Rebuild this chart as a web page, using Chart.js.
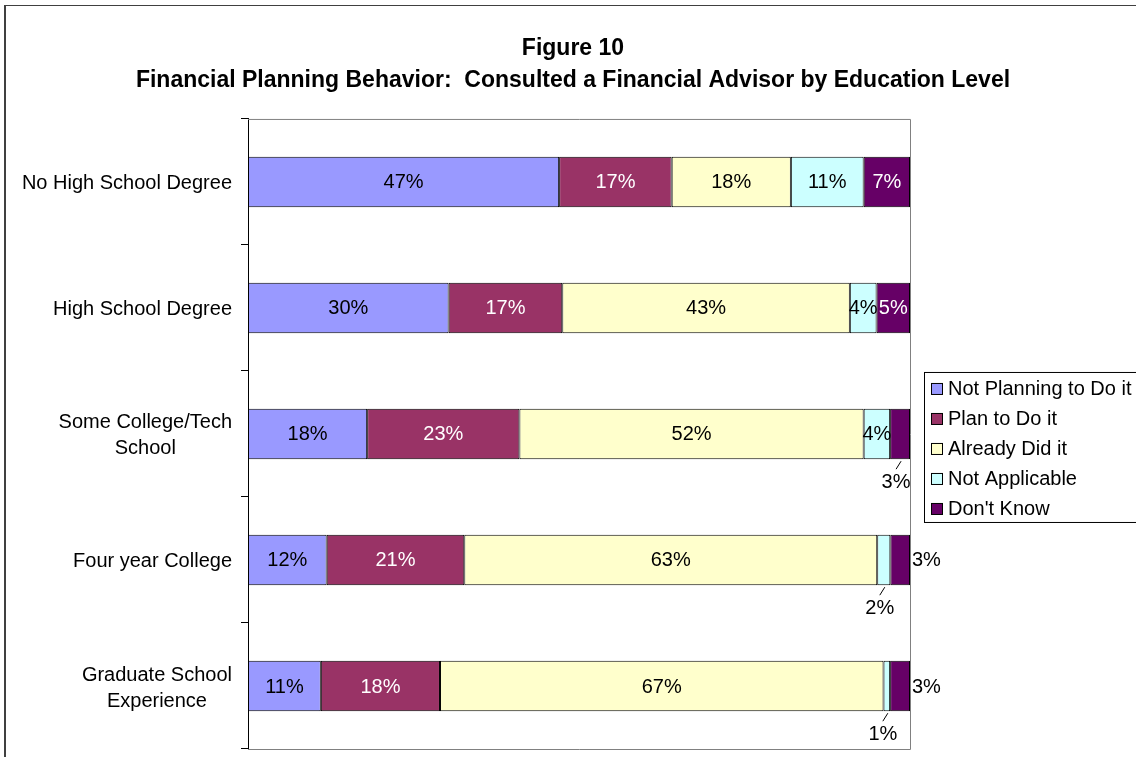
<!DOCTYPE html>
<html>
<head>
<meta charset="utf-8">
<title>Figure 10</title>
<script src="https://cdn.jsdelivr.net/npm/chart.js@4.4.0/dist/chart.umd.min.js"></script>
<style>
    html, body { margin: 0; padding: 0; background: #fff; overflow: hidden; }
    #frame { position: absolute; left: 4px; top: 5px; width: 1134px; height: 780px; border: 1px solid #404040; border-left-width: 2px; }
    canvas { display: block; }
</style>
</head>
<body>
<div id="frame"><canvas id="chart" width="1134" height="780"></canvas></div>
<script>
const categories = [
    "No High School Degree",
    "High School Degree",
    ["Some College/Tech", "School"],
    "Four year College",
    ["Graduate School", "Experience"]
];
const seriesNames = ["Not Planning to Do it", "Plan to Do it", "Already Did it", "Not Applicable", "Don't Know"];
const notPlanning   = [47, 30, 18, 12, 11];
const planToDo      = [17, 17, 23, 21, 18];
const alreadyDid    = [18, 43, 52, 63, 67];
const notApplicable = [11, 4, 4, 2, 1];
const dontKnow      = [7, 5, 3, 3, 3];

const seriesValues = [notPlanning, planToDo, alreadyDid, notApplicable, dontKnow];
const seriesColors = ["#9999FF", "#993366", "#FFFFCC", "#CCFFFF", "#660066"];
const labelColors  = ["#000000", "#FFFFFF", "#000000", "#000000", "#FFFFFF"];
// small slices whose label sits outside the bar ("row-series")
const outsideLabels = { "2-4": "below", "3-3": "below", "3-4": "right", "4-3": "below", "4-4": "right" };

const FONT = "Arial, 'Liberation Sans', sans-serif";

// 100% stacked: each row is scaled by its own total
const rowTotals = categories.map((c, i) => seriesValues.reduce((s, arr) => s + arr[i], 0));

const datasets = seriesNames.map((name, k) => ({
    label: name,
    data: seriesValues[k].map((v, i) => v / rowTotals[i] * 100),
    backgroundColor: seriesColors[k],
    borderColor: "#000000",
    borderWidth: 1,
    borderSkipped: false,
    barPercentage: 0.4,
    categoryPercentage: 1
}));

const plotFrame = {
    id: "plotFrame",
    beforeDatasetsDraw(chart) {
        const {ctx, chartArea: a} = chart;
        ctx.save();
        ctx.strokeStyle = "#808080";
        ctx.lineWidth = 1;
        ctx.beginPath();
        ctx.moveTo(a.left, a.top + 0.5);
        ctx.lineTo(a.right + 0.5, a.top + 0.5);
        ctx.lineTo(a.right + 0.5, a.bottom + 0.5);
        ctx.lineTo(a.left, a.bottom + 0.5);
        ctx.stroke();
        ctx.restore();
    }
};

const valueLabels = {
    id: "valueLabels",
    afterDatasetsDraw(chart) {
        const ctx = chart.ctx;
        ctx.save();
        ctx.font = "20px " + FONT;
        ctx.textBaseline = "middle";
        chart.data.datasets.forEach((ds, k) => {
            const meta = chart.getDatasetMeta(k);
            meta.data.forEach((bar, i) => {
                const p = bar.getProps(["x", "y", "base", "height"], true);
                const text = seriesValues[k][i] + "%";
                const cx = (p.x + p.base) / 2;
                const bottom = p.y + p.height / 2;
                const place = outsideLabels[i + "-" + k];
                if (place === "below") {
                    ctx.strokeStyle = "#000";
                    ctx.lineWidth = 1;
                    ctx.beginPath();
                    ctx.moveTo(cx + 1, bottom + 2);
                    ctx.lineTo(cx - 4, bottom + 10);
                    ctx.stroke();
                    ctx.fillStyle = "#000";
                    ctx.textAlign = "center";
                    ctx.fillText(text, cx - 4, bottom + 23);
                } else if (place === "right") {
                    ctx.fillStyle = "#000";
                    ctx.textAlign = "left";
                    ctx.fillText(text, Math.max(p.x, p.base) + 2, p.y + 1);
                } else {
                    ctx.fillStyle = labelColors[k];
                    ctx.textAlign = "center";
                    ctx.fillText(text, cx, p.y + 1);
                }
            });
        });
        ctx.restore();
    }
};

const categoryLabels = {
    id: "categoryLabels",
    afterDraw(chart) {
        const ctx = chart.ctx;
        const scale = chart.scales.y;
        const right = chart.chartArea.left - 16;
        ctx.save();
        ctx.font = "20px " + FONT;
        ctx.fillStyle = "#000";
        ctx.textAlign = "center";
        ctx.textBaseline = "middle";
        chart.data.labels.forEach((lab, i) => {
            const lines = Array.isArray(lab) ? lab : [lab];
            const w = Math.max(...lines.map(l => ctx.measureText(l).width));
            const y0 = scale.getPixelForValue(i) + 2 - (lines.length - 1) * 13;
            lines.forEach((l, j) => ctx.fillText(l, right - w / 2, y0 + j * 26));
        });
        ctx.restore();
    }
};

// legend in its own layout box on the right, so the title still spans the full width
const boxedLegend = {
    id: "boxedLegend",
    beforeInit(chart) {
        const box = {
            position: "right",
            weight: 500,
            fullSize: false,
            options: {},
            left: 0, top: 0, right: 0, bottom: 0, width: 0, height: 0,
            isHorizontal() { return false; },
            update(maxWidth, maxHeight) {
                this.width = 230;
                this.height = maxHeight;
            },
            draw() {
                const ctx = chart.ctx;
                const a = chart.chartArea;
                const x = this.left + 14;
                const y = (a.top + a.bottom) / 2 - 62;
                ctx.save();
                ctx.strokeStyle = "#000";
                ctx.lineWidth = 1;
                ctx.strokeRect(x + 0.5, y + 0.5, 240, 150);
                ctx.font = "20px " + FONT;
                ctx.textBaseline = "middle";
                ctx.textAlign = "left";
                chart.data.datasets.forEach((ds, k) => {
                    const cy = y + 17 + k * 30;
                    ctx.fillStyle = ds.backgroundColor;
                    ctx.fillRect(x + 7.5, cy - 5.5, 11, 11);
                    ctx.strokeRect(x + 7.5, cy - 5.5, 11, 11);
                    ctx.fillStyle = "#000";
                    ctx.fillText(ds.label, x + 24, cy + 1);
                });
                ctx.restore();
            }
        };
        Chart.layouts.addBox(chart, box);
    }
};

new Chart(document.getElementById("chart").getContext("2d"), {
    type: "bar",
    data: {
        labels: categories,
        datasets: datasets
    },
    options: {
        indexAxis: "y",
        responsive: false,
        animation: false,
        layout: {
            padding: { left: 0, right: 0, top: 0, bottom: 37 }
        },
        plugins: {
            legend: { display: false },
            tooltip: { enabled: false },
            title: {
                display: true,
                text: ["Figure 10", "Financial Planning Behavior:  Consulted a Financial Advisor by Education Level"],
                color: "#000",
                font: { family: FONT, size: 23, weight: "bold", lineHeight: 1.39 },
                padding: { top: 27, bottom: 22 }
            }
        },
        scales: {
            x: {
                stacked: true,
                display: false,
                min: 0,
                max: 100
            },
            y: {
                stacked: true,
                offset: true,
                grid: {
                    display: true,
                    drawOnChartArea: false,
                    drawTicks: true,
                    tickLength: 7,
                    color: "#000",
                    offset: true
                },
                border: { display: true, color: "#000", width: 1 },
                ticks: { display: false },
                afterFit(scale) {
                    scale.width = 242;
                }
            }
        }
    },
    plugins: [plotFrame, valueLabels, categoryLabels, boxedLegend]
});
</script>
</body>
</html>
